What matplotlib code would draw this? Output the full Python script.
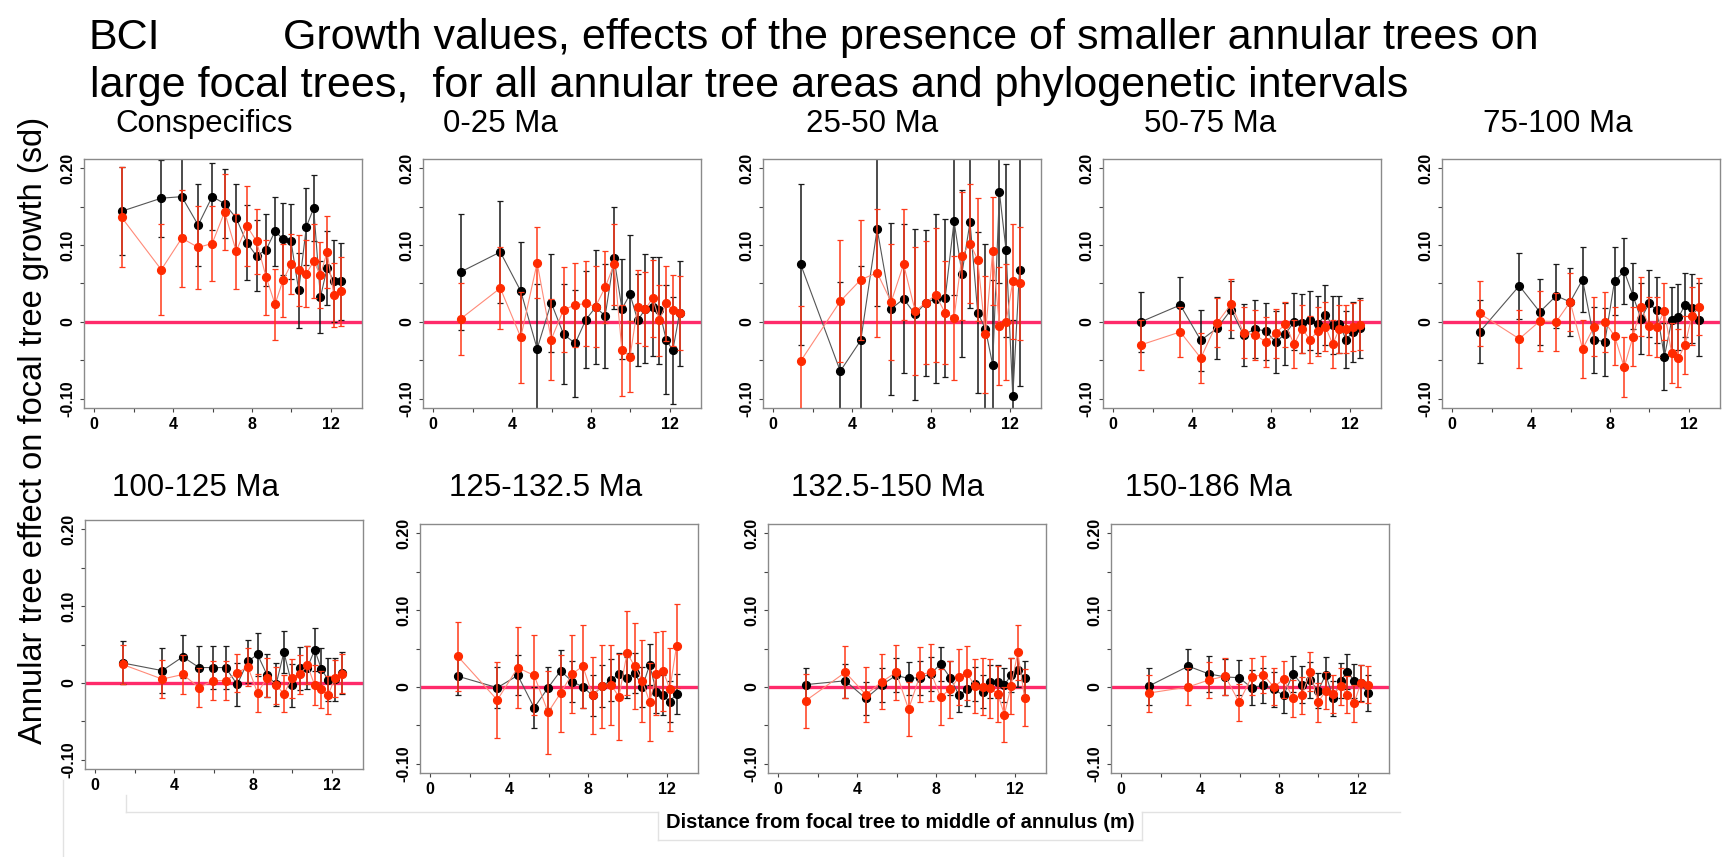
import matplotlib
matplotlib.use('Agg')
import matplotlib.pyplot as plt
from matplotlib.lines import Line2D

plt.rcParams['font.family'] = ['Liberation Sans', 'DejaVu Sans']

# distance from focal tree to middle of annulus (m), shared by all panels
x_dist = [1.39, 3.40, 4.44, 5.27, 5.98, 6.61, 7.20, 7.74, 8.23, 8.72,
          9.17, 9.57, 9.98, 10.37, 10.76, 11.13, 11.47, 11.81, 12.15, 12.49]

panel_titles = ['Conspecifics', '0-25 Ma', '25-50 Ma', '50-75 Ma', '75-100 Ma',
                '100-125 Ma', '125-132.5 Ma', '132.5-150 Ma', '150-186 Ma']

# black series (mean, half error bar) per panel
blk_consp = [0.144, 0.161, 0.163, 0.126, 0.163, 0.154, 0.135, 0.103, 0.086, 0.094,
             0.118, 0.108, 0.105, 0.041, 0.124, 0.148, 0.032, 0.070, 0.053, 0.053]
blk_consp_se = [0.057, 0.050, 0.050, 0.053, 0.044, 0.045, 0.045, 0.049, 0.046, 0.047,
                0.045, 0.047, 0.049, 0.049, 0.050, 0.043, 0.047, 0.048, 0.053, 0.050]
red_consp = [0.136, 0.068, 0.109, 0.097, 0.102, 0.143, 0.092, 0.125, 0.105, 0.058,
             0.023, 0.054, 0.075, 0.067, 0.063, 0.079, 0.061, 0.091, 0.035, 0.040]
red_consp_se = [0.065, 0.059, 0.063, 0.054, 0.049, 0.050, 0.049, 0.052, 0.042, 0.049,
                0.046, 0.048, 0.039, 0.046, 0.043, 0.048, 0.043, 0.047, 0.042, 0.045]

blk_0_25 = [0.065, 0.091, 0.040, -0.035, 0.025, -0.016, -0.028, 0.003, 0.019, 0.008,
            0.083, 0.017, 0.036, 0.002, 0.017, 0.020, 0.015, -0.023, -0.037, 0.011]
blk_0_25_se = [0.076, 0.066, 0.064, 0.084, 0.064, 0.065, 0.070, 0.063, 0.074, 0.068,
               0.066, 0.065, 0.077, 0.060, 0.071, 0.064, 0.070, 0.071, 0.070, 0.068]
red_0_25 = [0.004, 0.044, -0.020, 0.077, -0.023, 0.016, 0.022, 0.024, 0.020, 0.045,
            0.075, -0.037, -0.045, 0.020, 0.017, 0.031, 0.002, 0.024, 0.015, 0.012]
red_0_25_se = [0.047, 0.053, 0.059, 0.046, 0.053, 0.055, 0.055, 0.055, 0.053, 0.047,
               0.053, 0.059, 0.046, 0.047, 0.048, 0.050, 0.046, 0.049, 0.046, 0.048]

blk_25_50 = [0.075, -0.064, -0.024, 0.121, 0.017, 0.030, 0.010, 0.025, 0.030, 0.031,
             0.131, 0.063, 0.130, 0.012, -0.009, -0.056, 0.169, 0.093, -0.097, 0.067]
blk_25_50_se = [0.105, 0.116, 0.097, 0.100, 0.112, 0.097, 0.111, 0.095, 0.110, 0.103,
                0.096, 0.109, 0.112, 0.105, 0.111, 0.110, 0.119, 0.113, 0.100, 0.150]
red_25_50 = [-0.051, 0.027, 0.055, 0.064, 0.026, 0.075, 0.014, 0.025, 0.035, 0.012,
             0.005, 0.086, 0.102, 0.081, -0.016, 0.092, -0.005, 0.000, 0.053, 0.050]
red_25_50_se = [0.072, 0.079, 0.078, 0.083, 0.075, 0.072, 0.083, 0.080, 0.087, 0.067,
                0.081, 0.083, 0.077, 0.080, 0.076, 0.070, 0.077, 0.076, 0.075, 0.074]

blk_50_75 = [0.000, 0.022, -0.024, -0.008, 0.016, -0.017, -0.009, -0.012, -0.026, -0.016,
             0.000, -0.002, 0.002, -0.003, 0.009, -0.004, -0.003, -0.023, -0.013, -0.008]
blk_50_75_se = [0.039, 0.037, 0.040, 0.040, 0.037, 0.040, 0.038, 0.037, 0.040, 0.040,
                0.037, 0.038, 0.038, 0.037, 0.039, 0.038, 0.037, 0.037, 0.039, 0.039]
red_50_75 = [-0.030, -0.013, -0.047, -0.001, 0.023, -0.014, -0.017, -0.026, -0.015, -0.003,
             -0.029, -0.009, -0.023, -0.012, -0.006, -0.029, -0.009, -0.009, -0.007, -0.004]
red_50_75_se = [0.032, 0.033, 0.033, 0.032, 0.033, 0.033, 0.032, 0.033, 0.032, 0.029,
                0.031, 0.031, 0.031, 0.032, 0.032, 0.031, 0.031, 0.031, 0.031, 0.032]

blk_75_100 = [-0.013, 0.047, 0.013, 0.034, 0.026, 0.055, -0.023, -0.026, 0.053, 0.066,
              0.034, 0.004, 0.024, 0.015, -0.045, 0.002, 0.006, 0.022, 0.018, 0.003]
blk_75_100_se = [0.041, 0.043, 0.043, 0.042, 0.044, 0.042, 0.043, 0.044, 0.044, 0.043,
                 0.043, 0.046, 0.043, 0.043, 0.044, 0.044, 0.043, 0.042, 0.045, 0.047]
red_75_100 = [0.011, -0.022, 0.001, 0.000, 0.026, -0.035, -0.006, 0.000, -0.018, -0.059,
              -0.019, 0.020, -0.005, -0.006, 0.014, -0.041, -0.047, -0.030, 0.008, 0.020]
red_75_100_se = [0.042, 0.038, 0.039, 0.038, 0.038, 0.038, 0.038, 0.039, 0.038, 0.039,
                 0.039, 0.038, 0.038, 0.039, 0.037, 0.039, 0.038, 0.038, 0.038, 0.037]

blk_100_125 = [0.026, 0.016, 0.034, 0.020, 0.020, 0.020, -0.002, 0.028, 0.037, 0.010,
               -0.002, 0.040, -0.003, 0.019, 0.020, 0.043, 0.018, 0.004, 0.005, 0.013]
blk_100_125_se = [0.028, 0.029, 0.028, 0.028, 0.028, 0.028, 0.028, 0.028, 0.028, 0.028,
                  0.028, 0.027, 0.028, 0.028, 0.028, 0.028, 0.027, 0.028, 0.028, 0.027]
red_100_125 = [0.024, 0.005, 0.011, -0.006, 0.003, 0.003, 0.013, 0.021, -0.013, 0.007,
               -0.003, -0.014, 0.006, 0.011, 0.023, -0.003, -0.008, -0.016, 0.006, 0.012]
red_100_125_se = [0.025, 0.025, 0.025, 0.025, 0.025, 0.025, 0.025, 0.025, 0.025, 0.025,
                  0.024, 0.024, 0.025, 0.025, 0.025, 0.026, 0.024, 0.025, 0.024, 0.025]

blk_125_132 = [0.014, -0.001, 0.015, -0.027, -0.001, 0.021, 0.007, 0.000, -0.011, 0.001,
               0.009, 0.017, 0.012, 0.018, 0.000, 0.029, -0.007, -0.011, -0.019, -0.009]
blk_125_132_se = [0.025, 0.027, 0.026, 0.027, 0.027, 0.027, 0.027, 0.027, 0.027, 0.027,
                  0.027, 0.027, 0.027, 0.026, 0.026, 0.027, 0.027, 0.026, 0.027, 0.026]
red_125_132 = [0.040, -0.017, 0.025, 0.015, -0.033, -0.008, 0.017, 0.027, -0.011, 0.001,
               0.003, -0.013, 0.044, 0.027, 0.008, -0.020, 0.017, 0.021, -0.003, 0.053]
red_125_132_se = [0.045, 0.050, 0.053, 0.052, 0.054, 0.050, 0.051, 0.054, 0.050, 0.054,
                  0.052, 0.056, 0.055, 0.056, 0.053, 0.051, 0.054, 0.052, 0.054, 0.055]

blk_132_150 = [0.003, 0.008, -0.015, 0.003, 0.015, 0.011, 0.012, 0.017, 0.030, 0.012,
               -0.011, -0.003, 0.004, -0.006, 0.007, 0.007, 0.003, 0.015, 0.022, 0.012]
blk_132_150_se = [0.021, 0.022, 0.022, 0.022, 0.022, 0.022, 0.022, 0.022, 0.022, 0.022,
                  0.022, 0.022, 0.022, 0.022, 0.022, 0.022, 0.022, 0.022, 0.022, 0.022]
red_132_150 = [-0.018, 0.019, -0.010, 0.007, 0.019, -0.029, 0.016, 0.019, -0.013, -0.003,
               0.013, 0.018, 0.001, 0.000, -0.002, -0.009, -0.036, 0.001, 0.045, -0.014]
red_132_150_se = [0.035, 0.034, 0.036, 0.036, 0.036, 0.035, 0.036, 0.037, 0.036, 0.037,
                  0.036, 0.035, 0.035, 0.037, 0.038, 0.036, 0.036, 0.036, 0.036, 0.037]

blk_150_186 = [0.001, 0.027, 0.017, 0.013, 0.012, -0.001, 0.002, -0.003, -0.011, 0.017,
               0.003, 0.009, -0.005, 0.016, -0.015, 0.008, 0.020, 0.008, 0.005, -0.008]
blk_150_186_se = [0.024, 0.023, 0.023, 0.023, 0.023, 0.023, 0.023, 0.023, 0.023, 0.023,
                  0.024, 0.023, 0.023, 0.023, 0.023, 0.023, 0.023, 0.022, 0.023, 0.023]
red_150_186 = [-0.008, 0.000, 0.009, 0.014, -0.020, 0.013, 0.016, 0.000, 0.010, -0.015,
               -0.011, 0.020, -0.020, -0.005, -0.009, 0.001, -0.010, -0.021, 0.005, 0.003]
red_150_186_se = [0.024, 0.024, 0.024, 0.024, 0.024, 0.024, 0.024, 0.024, 0.024, 0.024,
                  0.024, 0.025, 0.025, 0.024, 0.025, 0.024, 0.024, 0.024, 0.024, 0.024]

black_means = [blk_consp, blk_0_25, blk_25_50, blk_50_75, blk_75_100,
               blk_100_125, blk_125_132, blk_132_150, blk_150_186]
black_errs = [blk_consp_se, blk_0_25_se, blk_25_50_se, blk_50_75_se, blk_75_100_se,
              blk_100_125_se, blk_125_132_se, blk_132_150_se, blk_150_186_se]
red_means = [red_consp, red_0_25, red_25_50, red_50_75, red_75_100,
             red_100_125, red_125_132, red_132_150, red_150_186]
red_errs = [red_consp_se, red_0_25_se, red_25_50_se, red_50_75_se, red_75_100_se,
            red_100_125_se, red_125_132_se, red_132_150_se, red_150_186_se]

# panel boxes in pixels: (left, top), all 278 x 249
box_pos = [(84, 159), (423, 159), (763, 159), (1103, 159), (1442, 159),
           (85, 520), (420, 524), (768, 524), (1111, 524)]
title_cx = [204, 500, 872, 1210, 1558, 196, 546, 888, 1208]

W, H = 1722, 857
fig = plt.figure(figsize=(W / 100, H / 100), dpi=100)

PINK = '#ff2a6a'
RED = '#ff2a00'

for i in range(9):
    left, top = box_pos[i]
    ax = fig.add_axes([left / W, 1 - (top + 249) / H, 278 / W, 249 / H])
    ax.set_xlim(-0.52, 13.58)
    ax.set_ylim(-0.112, 0.212)
    ax.axhline(0, color=PINK, lw=2.4, zorder=1)

    ax.errorbar(x_dist, black_means[i], yerr=black_errs[i], fmt='none',
                ecolor='#1a1a1a', elinewidth=1.1, capsize=2, capthick=0.9, zorder=2)
    ax.plot(x_dist, black_means[i], color='#555555', lw=0.8, zorder=3)
    ax.plot(x_dist, black_means[i], 'o', color='black', ms=5.6, mec='black', zorder=4)

    ax.errorbar(x_dist, red_means[i], yerr=red_errs[i], fmt='none',
                ecolor='#ff3a1a', elinewidth=1.1, capsize=2, capthick=0.9, zorder=5)
    ax.plot(x_dist, red_means[i], color='#ff8a78', lw=0.8, zorder=6)
    ax.plot(x_dist, red_means[i], 'o', color=RED, ms=5.6, mec=RED, zorder=7)

    for sp in ax.spines.values():
        sp.set_color('#8a8a8a')
        sp.set_linewidth(1.0)

    ax.set_xticks([0, 2, 4, 6, 8, 10, 12])
    ax.set_xticklabels(['0', '', '4', '', '8', '', '12'])
    ax.set_yticks([-0.10, -0.05, 0, 0.05, 0.10, 0.15, 0.20])
    ax.set_yticklabels(['-0.10', '', '0', '', '0.10', '', '0.20'],
                       rotation=90, va='center')
    ax.tick_params(axis='both', direction='out', length=3, width=0.8,
                   color='#444444', labelsize=11.5, pad=3.5)
    for lab in ax.get_xticklabels() + ax.get_yticklabels():
        lab.set_fontweight('bold')

    base = 132 if i < 5 else 496
    fig.text(title_cx[i] / W, 1 - base / H, panel_titles[i], fontsize=22.5,
             ha='center', va='baseline')

# main title
fig.text(88 / W, 1 - 49 / H, 'BCI', fontsize=31, va='baseline')
fig.text(283 / W, 1 - 49 / H,
         'Growth values, effects of the presence of smaller annular trees on',
         fontsize=31, va='baseline')
fig.text(90 / W, 1 - 97 / H,
         'large focal trees,  for all annular tree areas and phylogenetic intervals',
         fontsize=31, va='baseline')

fig.text(34 / W, 1 - 430 / H, 'Annular tree effect on focal tree growth (sd)',
         fontsize=23.5, rotation=90, ha='center', va='center')
fig.text(900 / W, 1 - 823 / H, 'Distance from focal tree to middle of annulus (m)',
         fontsize=14.5, fontweight='bold', ha='center', va='center')

# faint frame lines left over from pasting the panels together
faint = '#e2e2e2'
for xs, ys in [([126, 658], [812, 812]), ([126, 126], [795, 812]),
               ([658, 658], [812, 840]), ([658, 1142], [840, 840]),
               ([1142, 1142], [812, 840]), ([1142, 1400], [812, 812]),
               ([63, 63], [780, 857])]:
    fig.add_artist(Line2D([x / W for x in xs], [1 - y / H for y in ys],
                          color=faint, lw=1.0))

fig.savefig('out.png', dpi=100)
